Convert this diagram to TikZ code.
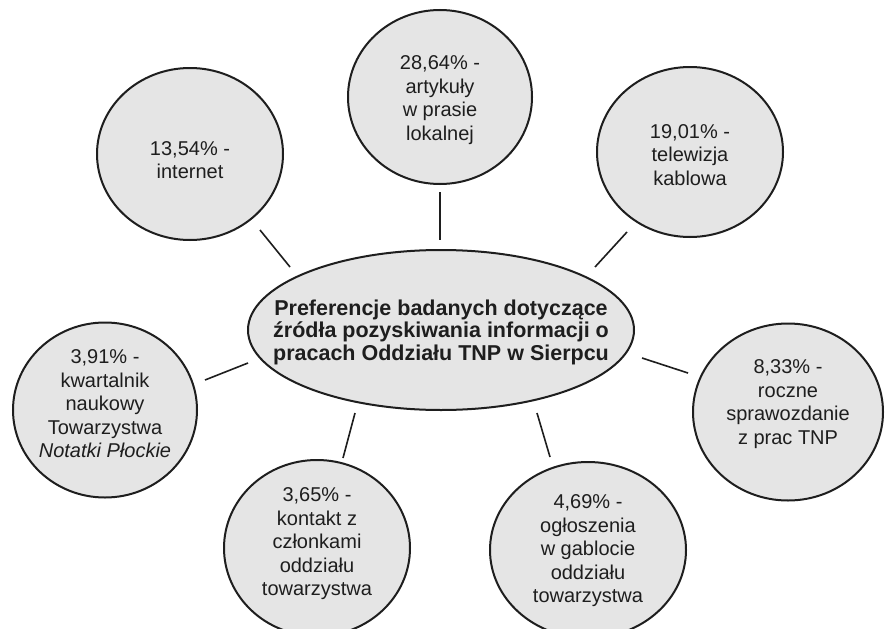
\documentclass[tikz,border=0pt]{standalone}
\usepackage{fontspec}
\setmainfont{Liberation Sans}
\usetikzlibrary{shapes.geometric,calc}
\definecolor{bubblefill}{RGB}{229,229,229}
\definecolor{ink}{RGB}{30,30,30}
\begin{document}
\begin{tikzpicture}[x=1pt,y=-1pt,
  bubble/.style={ellipse,draw=ink,line width=2pt,fill=bubblefill,inner sep=0pt,outer sep=0pt},
  sat/.style={bubble,minimum width=186pt,minimum height=174pt},
  lbl/.style={align=center,text=ink,font=\fontsize{20}{23.5}\selectfont,inner sep=0pt},
  mainlbl/.style={align=center,text=ink,font=\bfseries\fontsize{21.5}{22.5}\selectfont,inner sep=0pt},
  conn/.style={draw=ink,line width=1.6pt}]
\useasboundingbox (0,0) rectangle (886,629);
\clip (0,0) rectangle (886,629);
\fill[white] (0,0) rectangle (886,629);

% central ellipse
\node[bubble,minimum width=386pt,minimum height=160pt] (C) at (441,330) {};
\node[mainlbl] (Ct) at ($(C)+(0,2)$) {Preferencje badanych dotyczące\\źródła pozyskiwania informacji o\\pracach Oddziału TNP w Sierpcu};

% satellites
\node[sat,minimum width=184pt,minimum height=174pt] (T) at (440,97) {};
\node[lbl] (Tt) at ($(T)+(0,3)$) {28,64\% -\\artykuły\\w prasie\\lokalnej};

\node[sat,minimum width=186pt,minimum height=172pt] (I) at (190,154) {};
\node[lbl] (It) at ($(I)+(0,6)$) {13,54\% -\\internet};

\node[sat,minimum width=186pt,minimum height=170pt] (R1) at (690,152) {};
\node[lbl] (R1t) at ($(R1)+(0,3)$) {19,01\% -\\telewizja\\kablowa};

\node[sat,minimum width=184pt,minimum height=175pt] (L) at (105,410) {};
\node[lbl] (Lt) at ($(L)+(0,-6)$) {3,91\% -\\kwartalnik\\naukowy\\Towarzystwa\\\textit{Notatki Płockie}};

\node[sat,minimum width=190pt,minimum height=177pt] (R2) at (788,412) {};
\node[lbl] (R2t) at ($(R2)+(0,-8)$) {8,33\% -\\roczne\\sprawozdanie\\z prac TNP};

\node[sat,minimum width=186pt,minimum height=176pt] (BL) at (317,548) {};
\node[lbl] (BLt) at ($(BL)+(0,-4)$) {3,65\% -\\kontakt z\\członkami\\oddziału\\towarzystwa};

\node[sat,minimum width=196pt,minimum height=176pt] (BR) at (588,550) {};
\node[lbl] (BRt) at ($(BR)+(0,1)$) {4,69\% -\\ogłoszenia\\w gablocie\\oddziału\\towarzystwa};

% connectors
\draw[conn] ($(I)+(70,76)$) -- ($(C)+(-151,-63)$);
\draw[conn] ($(T)+(0,95)$) -- ($(C)+(-1,-90)$);
\draw[conn] ($(R1)+(-63,80)$) -- ($(C)+(154,-63)$);
\draw[conn] ($(L)+(100,-30)$) -- ($(C)+(-193,33)$);
\draw[conn] ($(R2)+(-100,-39)$) -- ($(C)+(201,28)$);
\draw[conn] ($(BL)+(26,-90)$) -- ($(C)+(-86,83)$);
\draw[conn] ($(BR)+(-38,-93)$) -- ($(C)+(96,83)$);
\end{tikzpicture}
\end{document}
